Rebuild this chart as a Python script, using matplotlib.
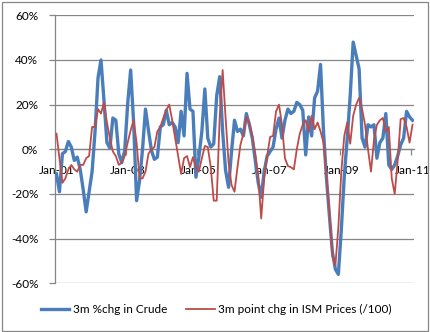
import matplotlib
matplotlib.use("Agg")
import matplotlib.pyplot as plt
from matplotlib.patches import Rectangle
from matplotlib.ticker import FixedLocator, FuncFormatter, NullFormatter
import numpy as np

plt.rcParams['font.family'] = ['Lato', 'DejaVu Sans']
plt.rcParams['axes.unicode_minus'] = False

# Monthly observations, Jan-01 through Jan-11 (121 months)
crude_3m_chg = [
    -11, -19, -2, -1, 3.5, 1, -5, -3.5, -9, -18,
    -28, -19, -10, 8, 32, 40, 22, 3, 0.5, 14,
    13, -2, -6, -0.5, 20.5, 35.5, 12, -23, -14, 0,
    18, 8.5, -0.5, -4.5, -3.5, 10, 11, 17.5, 11, 12,
    10, 3, 17, 6, 34, 18, 17, -12.5, -3.5, 8,
    27, 5, 1, 2.5, 24, 32.5, 8, -9.5, -17, -1,
    13, 8, 9, 6, 16, 11, 5, -5, -15, -21.5,
    -10, -3, -1, 1, 9, 14, 5, 13, 18, 16,
    17, 21, 20, 17.5, -2.5, 14.5, 6, 23, 26, 38,
    8, -13, -30, -46, -53.7, -56, -36, -12, 5, 24,
    48, 42, 36, 5, 1, 11, 10, 11, -4, 3,
    5, 16, -7, -9, -7, -3, 2, 5, 17, 14.5,
    13,
]
ism_prices_3m_chg = [
    7, -4, -15, -13, -9, -7, -9, -10, -7, -7,
    -4, -3, 10, 10, 18, 16, 21, 12, 5, -1,
    -3, -7, -6, -3, 3, 8.5, 13, 3, -13, -13,
    -10, -2, 0, 1, 8, 10, 14, 17.5, 20, 13,
    5, -3, -11, -4, -3, -8, -3.5, -8, -10, -4,
    1.5, 1, -8, -23, -23, 14, 35.5, 14, -6, -16,
    -19, -8, 2, 7, 14.5, 12, 6, -2, -12, -31,
    -13, -3, 5.5, 6, 17, 20, 11, -4, -7.5, -8,
    -9, 0, 7, 11, 13, 8, 15, 9, 12, 8,
    3, -12, -28, -48, -52, -35, -10, 6, 12, 2.5,
    15, 20, 23, 18, 11, 0, -10, 4, 11, 13,
    14, 8, 10, -13, -20, -5, 13.5, 14, 10, 3,
    11,
]
tick_labels = ["Jan-01", "Jan-03", "Jan-05", "Jan-07", "Jan-09", "Jan-11"]
tick_step = 24
series_names = ["3m %chg in Crude", "3m point chg in ISM Prices (/100)"]

W, H = 431, 332
fig = plt.figure(figsize=(W / 100, H / 100), dpi=100)
ax = fig.add_axes([55 / W, 1 - 283.3 / H, (414 - 55) / W, (283.3 - 15.3) / H])

x = np.arange(len(crude_3m_chg))
blue, red, grid = "#4A7EBB", "#BE4B48", "#868686"
fs = 8.5

ax.plot(x, crude_3m_chg, color=blue, lw=2.4, solid_joinstyle="round", zorder=3,
        label=series_names[0])
ax.plot(x, ism_prices_3m_chg, color=red, lw=1.3, solid_joinstyle="round", zorder=4,
        label=series_names[1])

ax.set_xlim(-0.5, len(x) - 0.5)
ax.set_ylim(-60, 60)

# y axis: gridlines every 20%
yt = np.arange(-60, 61, 20)
ax.set_yticks(yt)
ax.yaxis.set_major_formatter(FuncFormatter(lambda v, p: f"{int(round(v))}%"))
ax.grid(axis="y", color=grid, lw=0.9, zorder=1)
ax.tick_params(axis="y", length=4, width=0.9, color=grid, pad=8, labelsize=fs,
               labelcolor="black")

# category axis crossing at zero
ax.spines["bottom"].set_position(("data", 0))
for s in ("top", "right"):
    ax.spines[s].set_visible(False)
for s in ("left", "bottom"):
    ax.spines[s].set_color(grid)
    ax.spines[s].set_linewidth(0.9)

label_pos = np.arange(0, len(x), tick_step)
ax.xaxis.set_major_locator(FixedLocator(label_pos - 0.5))
ax.xaxis.set_major_formatter(NullFormatter())
ax.xaxis.set_minor_locator(FixedLocator(label_pos))
ax.set_xticklabels(tick_labels, minor=True)
ax.tick_params(axis="x", which="major", length=4, width=0.9, color=grid, direction="out")
ax.tick_params(axis="x", which="minor", length=0, pad=11, labelsize=fs)

fig.legend(loc="lower center", bbox_to_anchor=(0.502, 0.02), ncol=2, frameon=False,
           fontsize=fs, handlelength=2.4, handletextpad=0.3, columnspacing=1.6)

fig.patches.append(Rectangle((1.7 / W, 1.3 / H), (428.3 - 1.7) / W, (330.7 - 1.7) / H,
                             transform=fig.transFigure, fill=False,
                             edgecolor=grid, lw=0.9))

fig.savefig("out.png", dpi=100)
